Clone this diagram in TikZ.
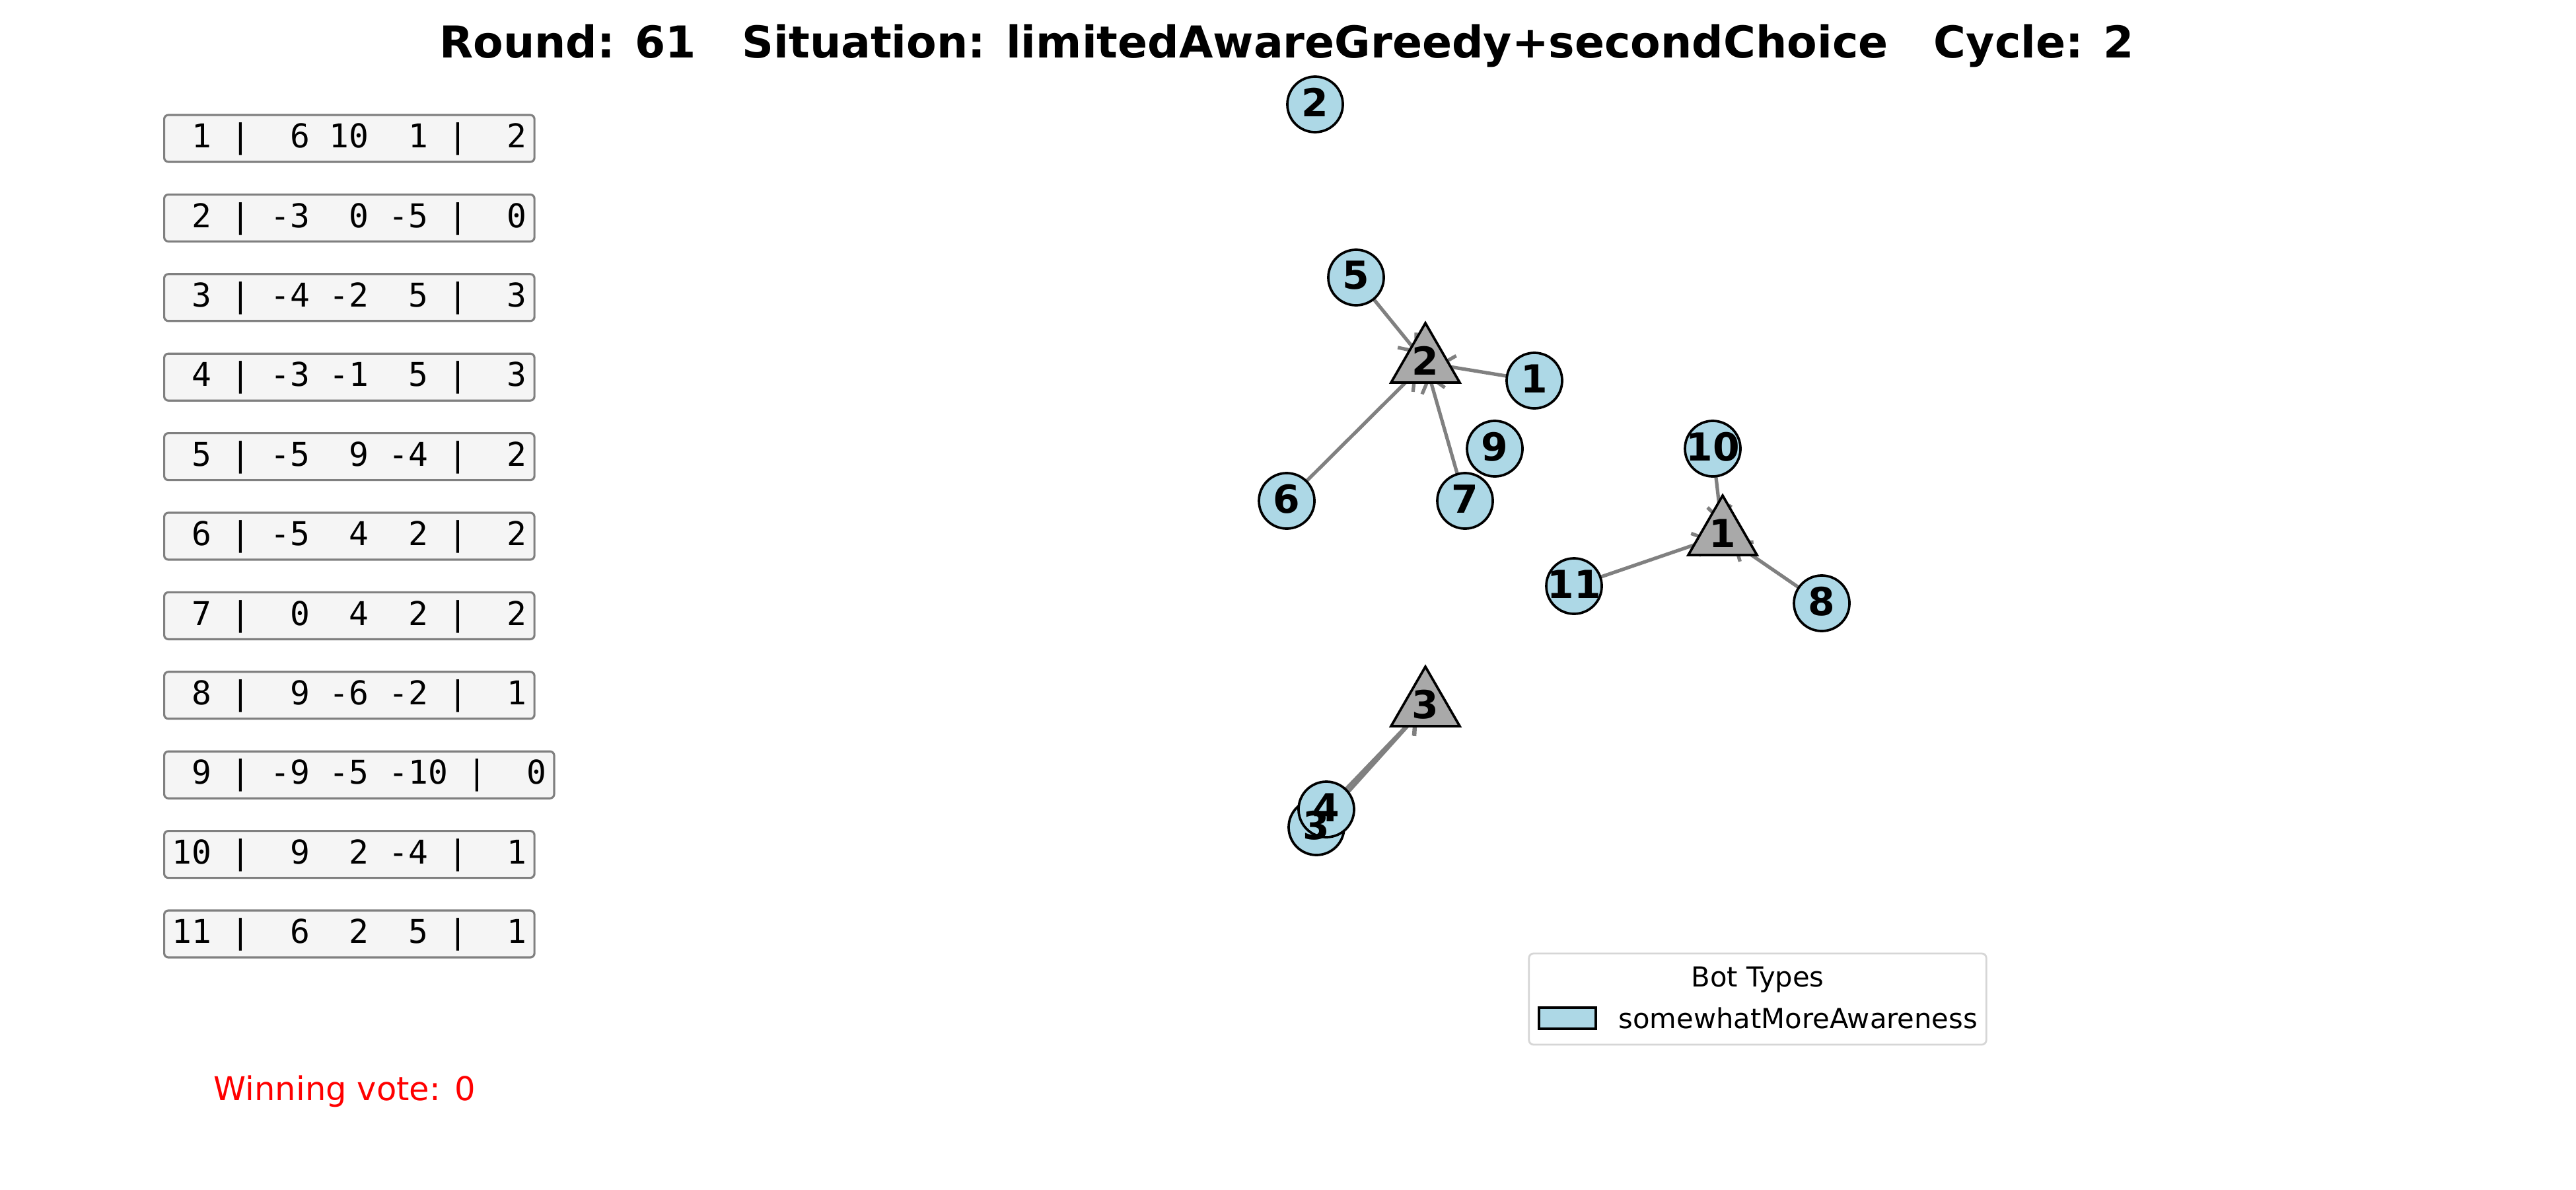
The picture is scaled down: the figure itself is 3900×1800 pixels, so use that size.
\documentclass[tikz,border=0pt]{standalone}
\usepackage{fontspec}
\setmainfont{DejaVu Sans}
\newfontfamily\monofont{DejaVu Sans Mono}
\usetikzlibrary{shapes.geometric,arrows.meta}
\pgfdeclarelayer{paper}
\pgfdeclarelayer{bg}
\pgfsetlayers{paper,bg,main}
\definecolor{lb}{HTML}{ADD8E6}
\definecolor{dg}{HTML}{A9A9A9}
\definecolor{eg}{HTML}{808080}
\definecolor{ws}{HTML}{F5F5F5}
\definecolor{lg}{HTML}{D6D6D6}
\definecolor{winred}{HTML}{FF0000}
\begin{document}
\begin{tikzpicture}[x=0.01cm,y=-0.01cm,
  bot/.style={circle,draw=black,line width=1.05pt,fill=lb,minimum size=0.84cm,inner sep=0pt},
  tri/.style={regular polygon,regular polygon sides=3,draw=black,line width=1.05pt,fill=dg,minimum size=1.2cm,inner sep=0pt},
  lbl/.style={font=\fontsize{16.6}{18}\selectfont\bfseries,inner sep=0pt,yshift=0.85pt},
  conn/.style={draw=eg,line width=1.5pt,line cap=round,-{Straight Barb[length=6.3pt,width=10.2pt]},shorten >=5.1pt},
  rowbox/.style={draw=eg,fill=ws,line width=0.9pt,rounded corners=1.8pt,anchor=west,inner xsep=3.3pt,inner ysep=0pt,minimum height=20.2pt,text height=11.4pt,text depth=3.3pt,font=\monofont\fontsize{14.1}{16}\selectfont},
  legfont/.style={font=\fontsize{11.86}{14}\selectfont}
]
\begin{pgfonlayer}{paper}
\useasboundingbox[fill=white] (0,0) rectangle (3900,1800);
\end{pgfonlayer}

% title
\node[font=\fontsize{18.9}{22}\selectfont\bfseries,anchor=base,inner sep=0pt] (title) at (1948,88)
  {Round: 61~~~Situation: limitedAwareGreedy+secondChoice~~~Cycle: 2};

% preference table
\node[rowbox] (r1)  at (247,209.5) {~1~|~~6~10~~1~|~~2};
\node[rowbox] (r2)  at (247,329.9) {~2~|~-3~~0~-5~|~~0};
\node[rowbox] (r3)  at (247,450.3) {~3~|~-4~-2~~5~|~~3};
\node[rowbox] (r4)  at (247,570.7) {~4~|~-3~-1~~5~|~~3};
\node[rowbox] (r5)  at (247,691.1) {~5~|~-5~~9~-4~|~~2};
\node[rowbox] (r6)  at (247,811.5) {~6~|~-5~~4~~2~|~~2};
\node[rowbox] (r7)  at (247,931.9) {~7~|~~0~~4~~2~|~~2};
\node[rowbox] (r8)  at (247,1052.3) {~8~|~~9~-6~-2~|~~1};
\node[rowbox] (r9)  at (247,1172.7) {~9~|~-9~-5~-10~|~~0};
\node[rowbox] (r10) at (247,1293.1) {10~|~~9~~2~-4~|~~1};
\node[rowbox] (r11) at (247,1413.5) {11~|~~6~~2~~5~|~~1};

% winning vote
\node[text=winred,font=\fontsize{14.1}{16}\selectfont,anchor=base west,inner sep=0pt] (win) at (323,1665) {Winning vote: 0};

% bots
\node[bot] (n1)  at (2323,576) {};
\node[bot] (n2)  at (1991,158) {};
\node[bot] (n3)  at (1993,1252) {};
\node[bot] (n4)  at (2008,1225) {};
\node[bot] (n5)  at (2053,420) {};
\node[bot] (n6)  at (1948,758) {};
\node[bot] (n7)  at (2218,758) {};
\node[bot] (n8)  at (2758,913) {};
\node[bot] (n9)  at (2263,679) {};
\node[bot] (n10) at (2593,679) {};
\node[bot] (n11) at (2383,887) {};

% candidates
\node[tri] (t1) at (2608,810) {};
\node[tri] (t2) at (2158,549) {};
\node[tri] (t3) at (2158,1069) {};

% connectors
\begin{pgfonlayer}{bg}
\draw[conn] (n5.center) -- (t2.center);
\draw[conn] (n1.center) -- (t2.center);
\draw[conn] (n6.center) -- (t2.center);
\draw[conn] (n7.center) -- (t2.center);
\draw[conn] (n3.center) -- (t3.center);
\draw[conn] (n4.center) -- (t3.center);
\draw[conn] (n10.center) -- (t1.center);
\draw[conn] (n11.center) -- (t1.center);
\draw[conn] (n8.center) -- (t1.center);
\end{pgfonlayer}

% labels
\node[lbl] at (n1) {1};
\node[lbl] at (n2) {2};
\node[lbl] at (n3) {3};
\node[lbl] at (n4) {4};
\node[lbl] at (n5) {5};
\node[lbl] at (n6) {6};
\node[lbl] at (n7) {7};
\node[lbl] at (n8) {8};
\node[lbl] at (n9) {9};
\node[lbl] at (n10) {10};
\node[lbl] at (n11) {11};
\node[lbl] at (t1) {1};
\node[lbl] at (t2) {2};
\node[lbl] at (t3) {3};

% legend
\node[draw=lg,fill=white,line width=0.8pt,rounded corners=2pt,minimum width=6.92cm,minimum height=1.38cm,inner sep=0pt] (legend) at (2661,1512) {};
\node[legfont,anchor=base,inner sep=0pt] (legtitle) at (2661,1493) {Bot Types};
\node[draw=black,fill=lb,line width=1.1pt,minimum width=0.86cm,minimum height=0.32cm,inner sep=0pt] (legpatch) at (2373,1541) {};
\node[legfont,anchor=base west,inner sep=0pt] (legtext) at (2450,1556) {somewhatMoreAwareness};
\end{tikzpicture}
\end{document}
